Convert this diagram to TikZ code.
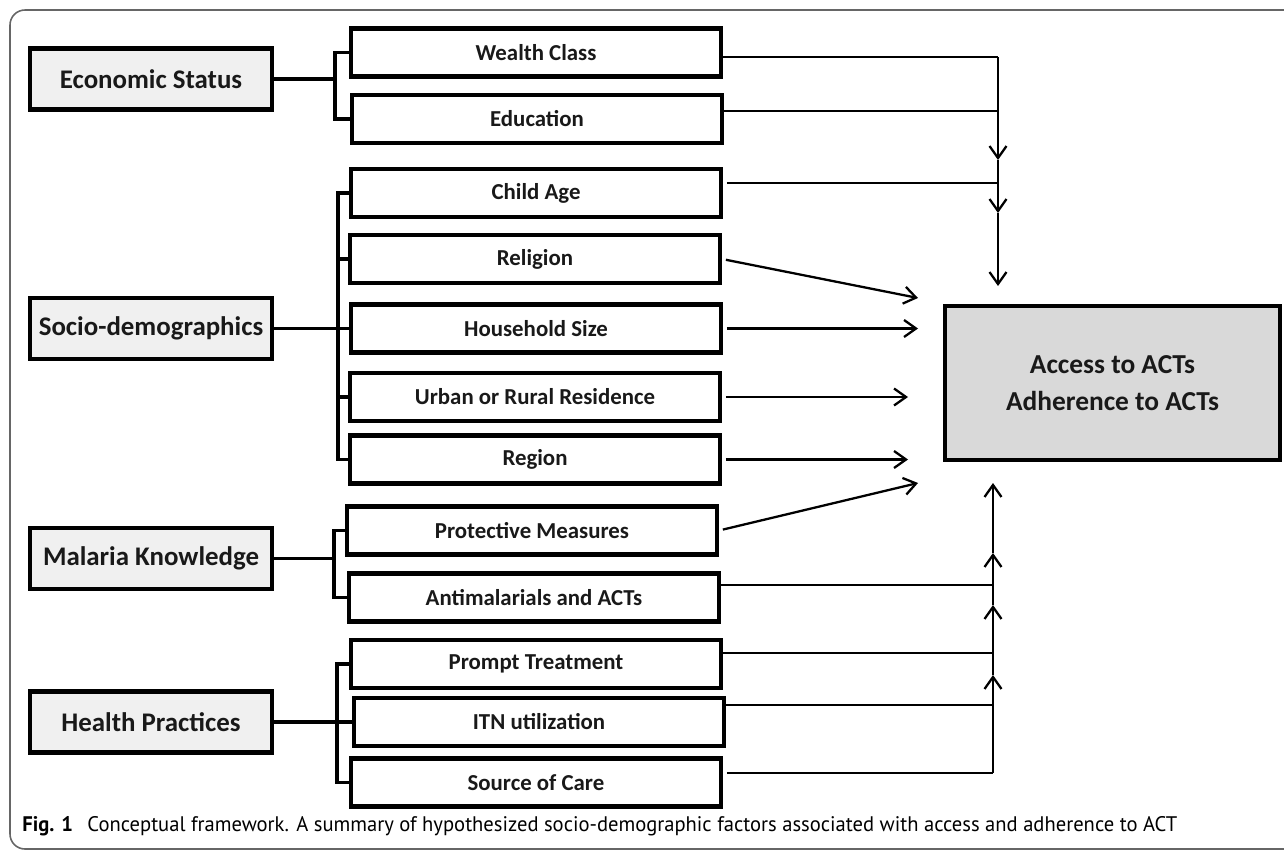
\documentclass[tikz,border=0pt]{standalone}
\usepackage{fontspec}
\setmainfont{Carlito}
\newfontfamily\capfont{PT Sans}
\usepackage{graphicx}
\usetikzlibrary{arrows.meta}

\begin{document}
\begin{tikzpicture}[x=0.02cm,y=-0.02cm,
  grpbox/.style={draw=black,line width=2.3pt,fill=black!6,text=black!90,
    minimum width=4.84cm,minimum height=1.22cm,inner sep=0pt,
    font=\bfseries\fontsize{15.3}{18}\selectfont},
  factorbox/.style={draw=black,line width=2.3pt,fill=white,text=black!90,
    minimum width=7.4cm,minimum height=0.96cm,inner sep=0pt,
    font=\bfseries\fontsize{13}{15}\selectfont},
  outbox/.style={draw=black,line width=2.3pt,fill=black!15,text=black!90,
    minimum width=6.7cm,minimum height=3.08cm,inner sep=0pt,align=center,
    font=\bfseries\fontsize{15.6}{21.5}\selectfont},
  brk/.style={line width=1.8pt},
  feed/.style={line width=1.1pt,shorten <=0.08cm},
  arr/.style={line width=1.3pt,-{Straight Barb[length=0.24cm,width=0.34cm]}}]
\useasboundingbox (0,0) rectangle (1284,852);

% frame
\draw[black!60,line width=0.9pt,rounded corners=0.3cm] (1284,10) -- (10,10) -- (10,849) -- (1284,849);

\foreach \nm/\yy/\txt in {econ/79/Economic Status, socio/328.5/Socio-demographics,
  malaria/558.5/Malaria Knowledge, health/722/Health Practices}
{
        \node[grpbox] (\nm) at (151,\yy) {\txt};
}

\foreach \nm/\xx/\yy/\txt in {wealth/536/52.5/Wealth Class, educ/537/119/Education,
  child/536/193/Child Age, religion/535/259/Religion, hhsize/536/328.5/Household Size,
  urban/535/397/Urban or Rural Residence, region/535/459.5/Region,
  protect/532/530.5/Protective Measures, antimal/534/597.5/Antimalarials and ACTs,
  prompt/536/664/Prompt Treatment, itn/539/722/ITN utilization, care/536/782.5/Source of Care}
{
        \node[factorbox] (\nm) at (\xx,\yy) {\txt};
}

\node[outbox] (acts) at (1112.5,383) {Access to ACTs\\Adherence to ACTs};

% brackets
\coordinate (econspine) at (335,79);
\coordinate (sociospine) at (338,328.5);
\coordinate (malspine) at (334,558.5);
\coordinate (hlthspine) at (337,722);
\foreach \grp/\sp/\first/\last in {econ/econspine/wealth/educ, socio/sociospine/child/region,
  malaria/malspine/protect/antimal, health/hlthspine/prompt/care}
{
        \draw[brk] (\grp.east) -- (\sp) (\first.west) -| (\sp) |- (\last.west);
}
\foreach \m/\sp in {religion/sociospine, hhsize/sociospine, urban/sociospine, itn/hlthspine}
{
        \draw[brk] (\m.west) -- (\m.west -| \sp);
}

% top bus
\coordinate (j1) at (998,57);
\coordinate (j2) at (998,111);
\coordinate (j3) at (998,183);
\coordinate (d1) at (998,160);
\coordinate (d2) at (998,213);
\coordinate (d3) at (998,286);
\draw[feed] (wealth.east |- j1) -- (j1) (educ.east |- j2) -- (j2) (child.east |- j3) -- (j3);
\draw[arr] (j1) -- (d1);
\draw[arr] (d1) -- (d2);
\draw[arr] (d2) -- (d3);

% straight arrows
\coordinate (m1) at (918,298);
\coordinate (m2) at (918,327);
\coordinate (m3) at (908,395);
\coordinate (m4) at (908,460);
\coordinate (m5) at (918,483);
\draw[arr,shorten <=0.08cm] (religion.east) -- (m1);
\draw[arr,shorten <=0.08cm] (hhsize.east) -- (hhsize.east -| m2);
\draw[arr,shorten <=0.08cm] (urban.east) -- (urban.east -| m3);
\draw[arr,shorten <=0.08cm] (region.east) -- (region.east -| m4);
\draw[arr,shorten <=0.08cm] (protect.east) -- (m5);

% bottom bus
\coordinate (k1) at (993,585);
\coordinate (k2) at (993,653);
\coordinate (k3) at (993,705);
\coordinate (k4) at (993,773);
\coordinate (u1) at (993,675);
\coordinate (u2) at (993,605);
\coordinate (u3) at (993,553);
\coordinate (u4) at (993,483);
\draw[feed] (antimal.east |- k1) -- (k1) (prompt.east |- k2) -- (k2)
  (itn.east |- k3) -- (k3) (care.east |- k4) -- (k4);
\draw[arr] (k4) -- (u1);
\draw[arr] (u1) -- (u2);
\draw[arr] (u2) -- (u3);
\draw[arr] (u3) -- (u4);

\node[anchor=west,inner sep=0pt] (caption) at (22,826)
  {\resizebox{23.1cm}{\height}{\capfont\fontsize{12}{14}\selectfont\textbf{Fig. 1}\hspace{0.7em}Conceptual framework. A summary of hypothesized socio-demographic factors associated with access and adherence to ACT}};
\end{tikzpicture}
\end{document}
